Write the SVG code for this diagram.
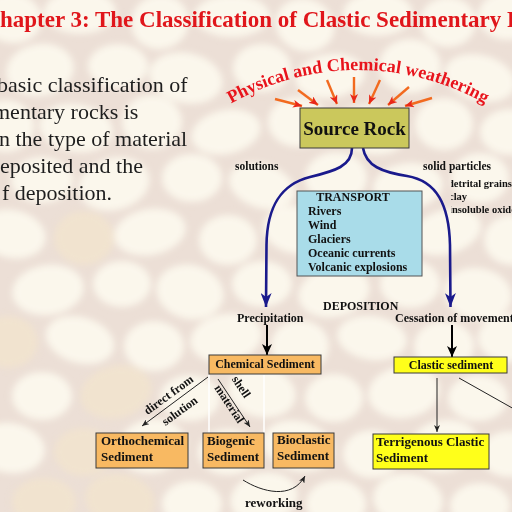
<svg xmlns="http://www.w3.org/2000/svg" width="512" height="512" viewBox="0 0 512 512">
<defs>
<filter id="soft" x="-10%" y="-10%" width="120%" height="120%"><feGaussianBlur stdDeviation="3.5"/></filter>
<marker id="ahOrange" markerUnits="userSpaceOnUse" markerWidth="10" markerHeight="8" refX="9" refY="4" orient="auto"><path d="M0,0 L9,4 L0,8 L2.5,4 z" fill="#e8281a"/></marker>
<marker id="ahNavy" markerUnits="userSpaceOnUse" markerWidth="15" markerHeight="11" refX="14" refY="5.5" orient="auto"><path d="M0,0 L14,5.5 L0,11 L4,5.5 z" fill="#1a1a8c"/></marker>
<marker id="ahBlack" markerUnits="userSpaceOnUse" markerWidth="12" markerHeight="10" refX="11" refY="5" orient="auto"><path d="M0,0 L11,5 L0,10 L3,5 z" fill="#000"/></marker>
<marker id="ahThin" markerUnits="userSpaceOnUse" markerWidth="8" markerHeight="6" refX="7" refY="3" orient="auto"><path d="M0,0 L7,3 L0,6 L2,3 z" fill="#222"/></marker>
</defs>
<style>
.pb{fill:#fbf7ec}
.pt{fill:#f1e3cf}
.ser{font-family:"Liberation Serif","Times New Roman",serif}
.b{font-weight:bold}
.lbl{font-family:"Liberation Serif","Times New Roman",serif;font-weight:bold;fill:#111}
.box{stroke:#3a3a3a;stroke-width:1}
.orange{fill:#f8b962}
.yellow{fill:#ffff1a}
.oa{stroke:#f26a1f;stroke-width:2.4;fill:none;marker-end:url(#ahOrange)}
.blue{stroke:#1a1a8c;stroke-width:2.6;fill:none;marker-end:url(#ahNavy)}
.blk{stroke:#000;stroke-width:2;fill:none;marker-end:url(#ahBlack)}
.thin{stroke:#222;stroke-width:1;fill:none}
.wl{stroke:#ffffff;stroke-width:1.5;fill:none}
</style>

<!-- background -->
<rect width="512" height="512" fill="#ecdfd6"/>
<g filter="url(#soft)">
<ellipse class="pb" cx="12" cy="18" rx="30" ry="25" transform="rotate(10 12 18)"/>
<ellipse class="pb" cx="80" cy="12" rx="36" ry="22"/>
<ellipse class="pb" cx="160" cy="22" rx="29" ry="27" transform="rotate(-15 160 22)"/>
<ellipse class="pb" cx="232" cy="16" rx="38" ry="21"/>
<ellipse class="pb" cx="305" cy="25" rx="30" ry="26" transform="rotate(20 305 25)"/>
<ellipse class="pb" cx="378" cy="14" rx="35" ry="22"/>
<ellipse class="pb" cx="448" cy="22" rx="28" ry="25"/>
<ellipse class="pb" cx="508" cy="16" rx="30" ry="24"/>
<ellipse class="pb" cx="40" cy="70" rx="34" ry="26" transform="rotate(-10 40 70)"/>
<ellipse class="pb" cx="118" cy="66" rx="30" ry="22"/>
<ellipse class="pb" cx="186" cy="78" rx="37" ry="25" transform="rotate(12 186 78)"/>
<ellipse class="pb" cx="262" cy="68" rx="29" ry="24"/>
<ellipse class="pb" cx="330" cy="76" rx="35" ry="22" transform="rotate(-8 330 76)"/>
<ellipse class="pb" cx="410" cy="66" rx="31" ry="27"/>
<ellipse class="pb" cx="480" cy="78" rx="36" ry="23" transform="rotate(15 480 78)"/>
<ellipse class="pb" cx="6" cy="126" rx="28" ry="26"/>
<ellipse class="pb" cx="76" cy="128" rx="37" ry="24" transform="rotate(8 76 128)"/>
<ellipse class="pb" cx="152" cy="122" rx="30" ry="27"/>
<ellipse class="pb" cx="226" cy="132" rx="35" ry="22" transform="rotate(-12 226 132)"/>
<ellipse class="pb" cx="298" cy="122" rx="30" ry="25"/>
<ellipse class="pb" cx="372" cy="130" rx="36" ry="24" transform="rotate(10 372 130)"/>
<ellipse class="pb" cx="444" cy="124" rx="29" ry="26"/>
<ellipse class="pb" cx="510" cy="132" rx="30" ry="23"/>
<ellipse class="pb" cx="42" cy="180" rx="31" ry="23"/>
<ellipse class="pb" cx="114" cy="184" rx="36" ry="26" transform="rotate(-14 114 184)"/>
<ellipse class="pb" cx="192" cy="178" rx="30" ry="24"/>
<ellipse class="pb" cx="262" cy="186" rx="34" ry="22" transform="rotate(18 262 186)"/>
<ellipse class="pb" cx="336" cy="178" rx="31" ry="26"/>
<ellipse class="pb" cx="408" cy="186" rx="35" ry="23" transform="rotate(-6 408 186)"/>
<ellipse class="pb" cx="480" cy="178" rx="29" ry="25"/>
<ellipse class="pb" cx="12" cy="234" rx="34" ry="24" transform="rotate(12 12 234)"/>
<ellipse class="pt" cx="84" cy="238" rx="30" ry="27"/>
<ellipse class="pb" cx="150" cy="232" rx="36" ry="23" transform="rotate(-10 150 232)"/>
<ellipse class="pb" cx="228" cy="240" rx="29" ry="25"/>
<ellipse class="pb" cx="298" cy="230" rx="35" ry="24" transform="rotate(8 298 230)"/>
<ellipse class="pb" cx="372" cy="238" rx="30" ry="26"/>
<ellipse class="pb" cx="446" cy="232" rx="36" ry="22" transform="rotate(-16 446 232)"/>
<ellipse class="pb" cx="512" cy="240" rx="28" ry="25"/>
<ellipse class="pb" cx="48" cy="290" rx="36" ry="25" transform="rotate(-8 48 290)"/>
<ellipse class="pb" cx="122" cy="284" rx="29" ry="23"/>
<ellipse class="pb" cx="190" cy="292" rx="34" ry="27" transform="rotate(14 190 292)"/>
<ellipse class="pb" cx="262" cy="284" rx="30" ry="23"/>
<ellipse class="pb" cx="334" cy="292" rx="36" ry="25" transform="rotate(-12 334 292)"/>
<ellipse class="pb" cx="410" cy="284" rx="30" ry="24"/>
<ellipse class="pb" cx="478" cy="294" rx="34" ry="26" transform="rotate(10 478 294)"/>
<ellipse class="pt" cx="8" cy="342" rx="30" ry="26"/>
<ellipse class="pb" cx="80" cy="340" rx="35" ry="23" transform="rotate(16 80 340)"/>
<ellipse class="pb" cx="154" cy="346" rx="30" ry="25"/>
<ellipse class="pb" cx="226" cy="338" rx="36" ry="24" transform="rotate(-10 226 338)"/>
<ellipse class="pb" cx="300" cy="346" rx="29" ry="26"/>
<ellipse class="pb" cx="372" cy="338" rx="35" ry="22" transform="rotate(8 372 338)"/>
<ellipse class="pb" cx="444" cy="346" rx="30" ry="25"/>
<ellipse class="pb" cx="510" cy="338" rx="32" ry="24"/>
<ellipse class="pb" cx="42" cy="396" rx="30" ry="24"/>
<ellipse class="pt" cx="116" cy="392" rx="36" ry="26" transform="rotate(-14 116 392)"/>
<ellipse class="pb" cx="190" cy="398" rx="30" ry="23"/>
<ellipse class="pb" cx="262" cy="392" rx="34" ry="25" transform="rotate(12 262 392)"/>
<ellipse class="pb" cx="334" cy="398" rx="29" ry="24"/>
<ellipse class="pb" cx="404" cy="392" rx="36" ry="26" transform="rotate(-8 404 392)"/>
<ellipse class="pb" cx="478" cy="398" rx="30" ry="23"/>
<ellipse class="pb" cx="10" cy="448" rx="35" ry="25" transform="rotate(8 10 448)"/>
<ellipse class="pt" cx="84" cy="452" rx="30" ry="24"/>
<ellipse class="pb" cx="152" cy="446" rx="34" ry="27" transform="rotate(-12 152 446)"/>
<ellipse class="pb" cx="228" cy="452" rx="30" ry="23"/>
<ellipse class="pb" cx="298" cy="446" rx="36" ry="25" transform="rotate(14 298 446)"/>
<ellipse class="pb" cx="372" cy="454" rx="29" ry="24"/>
<ellipse class="pb" cx="444" cy="446" rx="35" ry="26" transform="rotate(-10 444 446)"/>
<ellipse class="pb" cx="510" cy="454" rx="30" ry="23"/>
<ellipse class="pt" cx="44" cy="502" rx="32" ry="24"/>
<ellipse class="pt" cx="120" cy="500" rx="35" ry="26" transform="rotate(10 120 500)"/>
<ellipse class="pb" cx="192" cy="504" rx="30" ry="23"/>
<ellipse class="pb" cx="264" cy="498" rx="34" ry="25" transform="rotate(-12 264 498)"/>
<ellipse class="pb" cx="336" cy="504" rx="30" ry="24"/>
<ellipse class="pb" cx="408" cy="500" rx="35" ry="26" transform="rotate(8 408 500)"/>
<ellipse class="pb" cx="480" cy="506" rx="30" ry="23"/>
</g>

<!-- title and paragraph -->
<g id="title">
<text class="ser b" x="0" y="27" font-size="23" fill="#e0161b">hapter 3: The Classification of Clastic Sedimentary R</text>
</g>
<g id="paragraph" class="ser" font-size="22" fill="#1e1e1e">
<text x="-3" y="92">basic classification of</text>
<text x="-7" y="119">mentary rocks is</text>
<text x="-1" y="146">n the type of material</text>
<text x="0" y="173">eposited and the</text>
<text x="2" y="200">f deposition.</text>
</g>

<!-- connectors -->
<g id="connectors">
<path class="oa" d="M275,99 L302,106"/>
<path class="oa" d="M298,90 L318,105"/>
<path class="oa" d="M327,80 L337,104"/>
<path class="oa" d="M354,77 L354,103"/>
<path class="oa" d="M380,80 L369,104"/>
<path class="oa" d="M409,87 L388,105"/>
<path class="oa" d="M432,98 L405,106"/>
<path class="blue" d="M352,148 C352,166 335,171 310,177 C282,184 267,205 266.5,245 L266,307"/>
<path class="blue" d="M363,148 C366,166 382,172 407,176 C437,181 449,205 450,245 L450.5,307"/>
<path class="blk" d="M267,325 L267,355"/>
<path class="blk" d="M452,325 L452,357"/>
<path class="wl" d="M209,375 L209,433"/>
<path class="wl" d="M264,375 L264,433"/>
<path class="thin" marker-end="url(#ahThin)" d="M208,377 L142,426"/>
<path class="thin" marker-end="url(#ahThin)" d="M218,379 L250,427"/>
<path class="thin" marker-end="url(#ahThin)" d="M243,480 C262,492 292,500 305,476"/>
<path class="thin" marker-end="url(#ahThin)" d="M437,378 L437,432"/>
<path class="thin" d="M459,378 L514,409"/>
</g>

<!-- weathering arc -->
<g id="weathering">
<path id="arc" d="M176.3,145.3 A257,257 0 0 1 539.7,145.3" fill="none"/>
<text class="ser b" font-size="18" fill="#e8141c"><textPath href="#arc" startOffset="50%" text-anchor="middle">Physical and Chemical weathering</textPath></text>
</g>

<g id="source-rock">
<rect class="box" x="300" y="108" width="109" height="40" fill="#cbc85c"/>
<text class="lbl" x="354.5" y="135" font-size="19" text-anchor="middle">Source Rock</text>
</g>

<g id="labels-transport">
<text class="lbl" x="235" y="170" font-size="11.5">solutions</text>
<text class="lbl" x="423" y="170" font-size="11.5">solid particles</text>
<svg x="451" y="176" width="61" height="42" overflow="hidden">
<g transform="translate(-451,-176)">
<text class="lbl" x="448" y="187" font-size="10.5">detrital grains</text>
<text class="lbl" x="449" y="200" font-size="10.5">clay</text>
<text class="lbl" x="449" y="213" font-size="10.5">insoluble oxides</text>
</g>
</svg>
</g>

<g id="transport">
<rect x="297" y="191" width="125" height="85" fill="#a9dce9" stroke="#555" stroke-width="1"/>
<text class="lbl" x="353" y="201" font-size="12" text-anchor="middle">TRANSPORT</text>
<text class="lbl" x="308" y="215" font-size="12">Rivers</text>
<text class="lbl" x="308" y="229" font-size="12">Wind</text>
<text class="lbl" x="308" y="243" font-size="12">Glaciers</text>
<text class="lbl" x="308" y="257" font-size="12">Oceanic currents</text>
<text class="lbl" x="308" y="271" font-size="12">Volcanic explosions</text>
</g>

<g id="deposition">
<text class="lbl" x="323" y="310" font-size="12">DEPOSITION</text>
<text class="lbl" x="237" y="322" font-size="12">Precipitation</text>
<text class="lbl" x="395" y="322" font-size="12">Cessation of movement</text>
</g>

<g id="chemical-sediment">
<rect class="box orange" x="209" y="355" width="112" height="19"/>
<text class="lbl" x="265" y="368" font-size="12" text-anchor="middle">Chemical Sediment</text>
</g>

<g id="edge-labels">
<text class="lbl" font-size="12" transform="translate(171,398) rotate(-36)" text-anchor="middle">direct from</text>
<text class="lbl" font-size="12" transform="translate(182,414) rotate(-36)" text-anchor="middle">solution</text>
<text class="lbl" font-size="12" transform="translate(238,389) rotate(56)" text-anchor="middle">shell</text>
<text class="lbl" font-size="12" transform="translate(226,406) rotate(56)" text-anchor="middle">material</text>
<text class="lbl" x="245" y="507" font-size="13">reworking</text>
</g>

<g id="orthochemical">
<rect class="box orange" x="96" y="433" width="92" height="35"/>
<text class="lbl" x="101" y="445" font-size="13">Orthochemical</text>
<text class="lbl" x="101" y="461" font-size="13">Sediment</text>
</g>

<g id="biogenic">
<rect class="box orange" x="203" y="433" width="61" height="35"/>
<text class="lbl" x="207" y="445" font-size="13">Biogenic</text>
<text class="lbl" x="207" y="461" font-size="13">Sediment</text>
</g>

<g id="bioclastic">
<rect class="box orange" x="273" y="433" width="61" height="35"/>
<text class="lbl" x="277" y="444" font-size="13">Bioclastic</text>
<text class="lbl" x="277" y="460" font-size="13">Sediment</text>
</g>

<g id="clastic-sediment">
<rect class="box yellow" x="394" y="357" width="113" height="16"/>
<text class="lbl" x="451" y="369" font-size="12" text-anchor="middle">Clastic sediment</text>
</g>

<g id="terrigenous">
<rect class="box yellow" x="373" y="434" width="116" height="35"/>
<text class="lbl" x="376" y="446" font-size="13">Terrigenous Clastic</text>
<text class="lbl" x="376" y="462" font-size="13">Sediment</text>
</g>
</svg>
